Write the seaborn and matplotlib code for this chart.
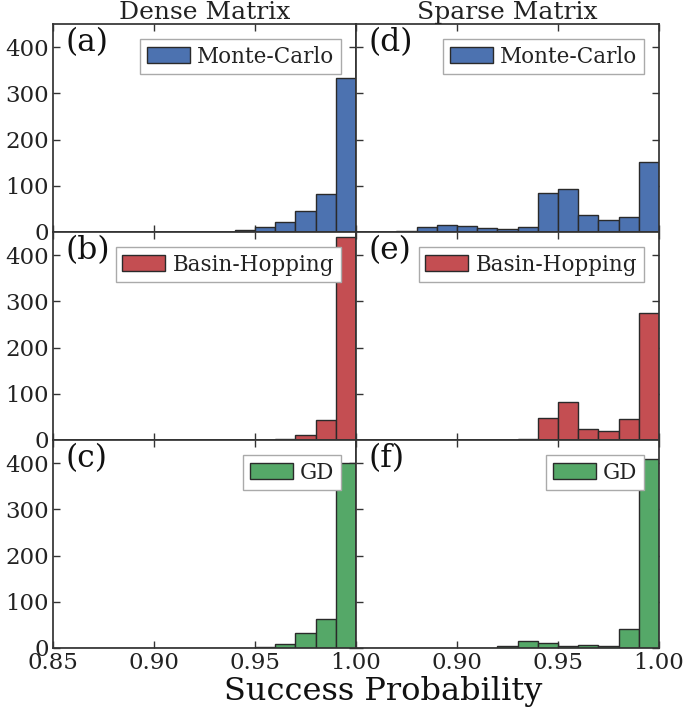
import numpy as np
import pandas as pd
import matplotlib
matplotlib.use("Agg")
import matplotlib.pyplot as plt
import seaborn as sns

# Bin edges (width 0.01) and bin centres
bin_edges = [0.85, 0.86, 0.87, 0.88, 0.89, 0.90, 0.91, 0.92, 0.93, 0.94,
             0.95, 0.96, 0.97, 0.98, 0.99, 1.00]
bin_centers = [0.855, 0.865, 0.875, 0.885, 0.895, 0.905, 0.915, 0.925,
               0.935, 0.945, 0.955, 0.965, 0.975, 0.985, 0.995]

# Counts per bin
dense_mc = [0, 0, 0, 0, 0, 0, 0, 0, 1, 5, 11, 21, 45, 82, 334]
dense_bh = [0, 0, 0, 0, 0, 0, 0, 0, 0, 0, 0, 3, 10, 43, 440]
dense_gd = [0, 0, 0, 0, 0, 0, 0, 0, 0, 0, 2, 8, 33, 62, 400]
sparse_mc = [0, 0, 2, 11, 16, 14, 8, 6, 10, 84, 94, 37, 27, 32, 151]
sparse_bh = [0, 0, 0, 0, 0, 0, 1, 0, 3, 47, 82, 23, 19, 45, 274]
sparse_gd = [0, 0, 0, 0, 0, 0, 0, 4, 15, 11, 4, 6, 5, 42, 408]

methods = ["Monte-Carlo", "Basin-Hopping", "GD"]
colors = ["#4C72B0", "#C44E52", "#55A868"]
col_titles = ["Dense Matrix", "Sparse Matrix"]
panel_labels = [["(a)", "(d)"], ["(b)", "(e)"], ["(c)", "(f)"]]
xticks = [0.85, 0.90, 0.95, 1.00]
yticks = [0, 100, 200, 300, 400]
xlabel = "Success Probability"

data = [[dense_mc, sparse_mc], [dense_bh, sparse_bh], [dense_gd, sparse_gd]]

sns.set_style("white")
plt.rcParams["font.family"] = ["DejaVu Serif"]
plt.rcParams["axes.edgecolor"] = "#333333"
plt.rcParams["axes.linewidth"] = 1.25

fig, axes = plt.subplots(3, 2, figsize=(6.85, 7.1), dpi=100)
fig.subplots_adjust(left=53 / 685, right=659 / 685, top=1 - 24 / 710,
                    bottom=1 - 648 / 710, hspace=0, wspace=0)

for r in range(3):
    for c in range(2):
        ax = axes[r, c]
        df = pd.DataFrame({"x": bin_centers, "w": data[r][c]})
        sns.histplot(data=df, x="x", weights="w", bins=bin_edges, ax=ax,
                     color=colors[r], edgecolor="#2a2a2a", linewidth=1.0,
                     alpha=1.0, label=methods[r])
        ax.set_xlim(0.85, 1.00)
        ax.set_ylim(0, 450)
        ax.set_xticks(xticks)
        ax.set_yticks(yticks)
        ax.set_xlabel("")
        ax.set_ylabel("")
        ax.tick_params(direction="in", length=5, width=1, top=True, right=True,
                       bottom=True, left=True, labelsize=16.5,
                       colors="#333333", labelcolor="#222222", pad=3)
        if r < 2:
            ax.tick_params(labelbottom=False)
        else:
            if c == 1:
                ax.set_xticklabels(["", "0.90", "0.95", "1.00"])
            else:
                ax.set_xticklabels(["0.85", "0.90", "0.95", "1.00"])
        if c == 1:
            ax.tick_params(labelleft=False)
        if r == 0:
            ax.set_title(col_titles[c], fontsize=18, pad=2, color="#222222")
        ax.text(0.04, 0.985, panel_labels[r][c], transform=ax.transAxes,
                fontsize=22.5, va="top", ha="left", color="#111111")
        leg = ax.legend(loc="upper right", fontsize=15.5, fancybox=False,
                        framealpha=1, edgecolor="#aaaaaa", borderpad=0.3,
                        handletextpad=0.35, borderaxespad=0.7,
                        handlelength=2.0, handleheight=0.7)
        for t in leg.get_texts():
            t.set_color("#222222")

fig.text(383.5 / 685, 1 - 700 / 710, xlabel, fontsize=23, ha="center",
         va="baseline", color="#111111")

fig.savefig("out.png", dpi=100)
